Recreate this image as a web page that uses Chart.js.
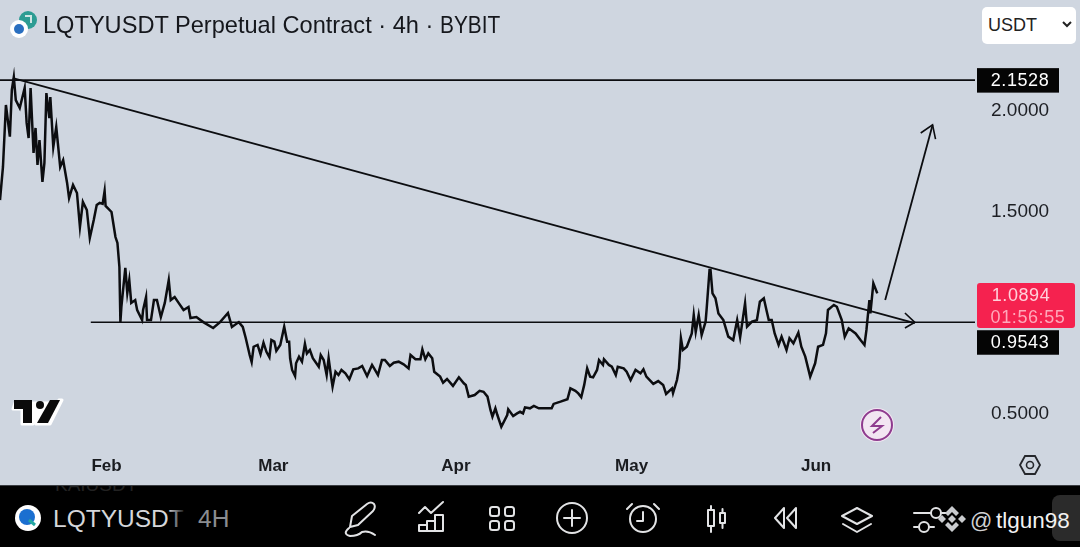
<!DOCTYPE html>
<html>
<head>
<meta charset="utf-8">
<script src="https://cdn.jsdelivr.net/npm/chart.js@4/dist/chart.umd.min.js"></script>
<style>
html,body{margin:0;padding:0;background:#cfd6e0;overflow:hidden}
#wrap{position:relative;width:1080px;height:547px;overflow:hidden;font-family:"Liberation Sans",Arial,sans-serif}
canvas{position:absolute;left:0;top:0}
svg{position:absolute;left:0;top:0}
#title{position:absolute;left:43px;top:11px;font-size:23.6px;color:#15171c;white-space:nowrap;line-height:28px}
#title span{display:inline-block;transform:scaleX(0.885);transform-origin:left center}
#unit{position:absolute;left:982px;top:7px;width:94px;height:37px;background:#fff;border-radius:5px;font-size:18px;line-height:37px;color:#222;text-indent:6px}
#foot{position:absolute;left:0;top:485px;width:1080px;height:62px;background:#000;border-top:1px solid #3a3d42;box-sizing:border-box}
</style>
</head>
<body>
<div id="wrap">
<canvas id="c" width="1080" height="485"></canvas>
<div id="title">LQTYUSDT Perpetual Contract · 4h · <span>BYBIT</span></div>
<div id="unit">USDT</div>
<svg width="1080" height="485" viewBox="0 0 1080 485">
  <circle cx="28" cy="20" r="9" fill="#2c9c93"/>
  <path d="M25 16 L31 16 L31 23" fill="none" stroke="#cfe6e4" stroke-width="2"/>
  <circle cx="19" cy="29" r="9" fill="#fff"/>
  <circle cx="19" cy="29" r="5" fill="#2a6fc0"/>
  <path d="M1063 22 L1067 26 L1071 22" fill="none" stroke="#222" stroke-width="2"/>
  <path d="M15 403 H58 L59 400 H62 L50 424 H36 L44 406 L33 424 H22 V409 H13 Z" fill="#fff" stroke="#fff" stroke-width="3" stroke-linejoin="round"/>
  <path d="M14 400 H32 V423 H23 V409 H14 Z" fill="#0b0b0b"/>
  <circle cx="40" cy="405" r="4" fill="#0b0b0b"/>
  <path d="M50 400 H60 L48 423 H37 Z" fill="#0b0b0b"/>
  <circle cx="877" cy="425" r="17" fill="#f2e6f2"/>
  <circle cx="877" cy="425" r="15" fill="none" stroke="#8e3b8e" stroke-width="2"/>
  <path d="M881 417 L872 426 H882 L873 433" fill="none" stroke="#8e3b8e" stroke-width="2"/>
  <path d="M1020 465 L1025 456 H1035 L1040 465 L1035 474 H1025 Z" fill="none" stroke="#25272c" stroke-width="1.8"/>
  <circle cx="1030" cy="465" r="3.5" fill="none" stroke="#25272c" stroke-width="1.6"/>
</svg>
<div id="foot">
<svg width="1080" height="62" viewBox="0 485 1080 62">
  <text x="55" y="490" font-size="19" fill="#222" font-family="Liberation Sans">KAIUSDT</text>
  <circle cx="28" cy="517" r="13" fill="#fff"/>
  <circle cx="27" cy="516" r="8" fill="#1b6fd0"/>
  <path d="M29 519 L35 524" stroke="#25a8a0" stroke-width="3"/>
  <defs><linearGradient id="fade" x1="0" x2="1" y1="0" y2="0"><stop offset="0.88" stop-color="#d5d7da"/><stop offset="1" stop-color="#222"/></linearGradient></defs>
  <text x="53" y="526" font-size="24.5" fill="url(#fade)" font-family="Liberation Sans">LQTYUSDT</text>
  <text x="198" y="526" font-size="24.5" fill="#8a8c90" font-family="Liberation Sans">4H</text>
  <g fill="none" stroke="#e2e3e5" stroke-width="2" stroke-linecap="round" stroke-linejoin="round">
    <path d="M350 526 L352 515 L367 503 Q371 500 374 503 Q376 506 373 510 L358 524 Z M349 527 Q342 533 350 535 Q358 535 362 531 Q368 529 375 534"/>
    <path d="M419 530 V524 H427 V530 Z M427 530 V520 H435 V530 M435 530 V514 H443 V530 H419"/>
    <path d="M419 512 L425 506 L431 512 L443 501"/>
    <rect x="490" y="506" width="9" height="9" rx="2.5"/><rect x="505" y="506" width="9" height="9" rx="2.5"/>
    <rect x="490" y="520" width="9" height="9" rx="2.5"/><rect x="505" y="520" width="9" height="9" rx="2.5"/>
    <circle cx="572" cy="517" r="15"/><path d="M572 509 V525 M564 517 H580"/>
    <circle cx="643" cy="518" r="13"/><path d="M643 511 V520 H637 M627 508 L632 503 M659 508 L654 503"/>
    <rect x="708" y="509" width="6" height="16"/><path d="M711 505 V509 M711 525 V531"/>
    <rect x="720" y="512" width="5" height="10"/><path d="M722.500 508 V512 M722.500 522 V527"/>
    <path d="M784 507 L775 517 L784 527 Z M796 507 L787 517 L796 527 Z"/>
    <path d="M842 515 L857 507 L872 515 L857 523 Z"/><path d="M843 523 L857 531 L871 523"/>
    <path d="M914 512 H930 M942 512 H946 M914 526 H918 M930 526 H934"/><circle cx="936" cy="512" r="5"/><circle cx="924" cy="526" r="5"/>
  </g>
  <rect x="1052" y="494" width="40" height="46" rx="8" fill="#2b2b2b"/>
  <g fill="#c9cbce">
    <path d="M952 505 L959 512 L956 515 L952 511 L948 515 L945 512 Z"/><path d="M952 531 L959 524 L956 521 L952 525 L948 521 L945 524 Z"/>
    <path d="M952 514 L956 518 L952 522 L948 518 Z"/>
    <path d="M942 514 L946 518 L942 522 L938 518 Z"/><path d="M962 514 L966 518 L962 522 L958 518 Z"/>
  </g>
  <text x="970" y="527" font-size="22" fill="#d0d1d3" font-family="Liberation Sans">@</text>
  <text x="996" y="527" font-size="22.500" fill="#f2f2f2" font-family="Liberation Sans">tlgun98</text>
</svg>
</div>
</div>
<script>
const candles = [0,3,6,10,12,14,16,20,25,27,29,31,34,36,38,40,43,45,47,50,51,54,57,61,64,68,70,74,78,81,84,88,91,95,98,101,104,106,107,113,117,119,121,122,123,127,129,131,133,137,139,144,145,148,149,153,156,159,163,167,171,173,177,181,186,191,193,199,206,216,223,231,235,242,246,249,253,255,257,261,264,267,270,273,275,278,280,284,288,291,293,294,296,299,300,303,306,309,311,314,317,323,325,328,331,333,336,337,340,343,346,350,354,358,363,367,372,377,380,383,387,390,395,399,404,409,414,416,421,426,428,431,434,438,440,446,449,453,459,465,470,472,475,481,486,490,494,497,499,502,504,508,514,515,520,524,527,530,532,537,541,546,559,561,568,575,578,583,586,589,592,595,598,601,605,607,611,612,617,620,624,626,632,635,639,644,649,652,655,662,667,672,675,681,682,686,688,690,692,696,701,703,705,708,711,715,716,719,720,722,725,728,733,738,743,747,750,755,757,762,767,770,774,777,779,782,785,789,792,797,800,804,809,812,816,821,826,829,834,837,839,845,848,853,856,860,867,872,876,878,881,882,885,889];
const prices = [1.559,1.723,2.030,1.873,2.104,2.168,2.054,2.015,2.114,1.941,1.866,2.114,1.792,1.916,1.733,1.856,1.649,1.743,2.089,1.965,2.069,1.822,1.921,1.723,1.757,1.644,1.569,1.634,1.594,1.426,1.550,1.510,1.371,1.460,1.535,1.545,1.540,1.604,1.530,1.500,1.376,1.347,1.228,0.955,1.030,1.223,1.099,1.163,1.050,1.064,1.015,0.965,1.015,1.079,0.965,0.965,1.064,1.064,0.980,1.050,1.163,1.064,1.079,1.050,1.015,1.030,0.975,0.980,0.955,0.926,0.955,1.000,0.931,0.955,0.931,0.876,0.792,0.757,0.833,0.842,0.796,0.853,0.808,0.781,0.866,0.858,0.813,0.842,0.932,0.858,0.858,0.776,0.718,0.688,0.751,0.784,0.759,0.847,0.800,0.817,0.776,0.734,0.792,0.767,0.693,0.776,0.668,0.635,0.709,0.693,0.718,0.701,0.672,0.721,0.726,0.738,0.688,0.743,0.718,0.693,0.767,0.767,0.738,0.754,0.759,0.746,0.726,0.792,0.771,0.771,0.820,0.771,0.800,0.776,0.709,0.685,0.655,0.673,0.639,0.682,0.652,0.644,0.586,0.594,0.615,0.610,0.586,0.520,0.487,0.528,0.495,0.437,0.495,0.523,0.490,0.503,0.511,0.503,0.533,0.528,0.540,0.528,0.528,0.550,0.561,0.573,0.627,0.615,0.602,0.583,0.644,0.726,0.685,0.682,0.718,0.767,0.743,0.771,0.743,0.734,0.693,0.734,0.726,0.709,0.668,0.718,0.701,0.721,0.685,0.649,0.663,0.644,0.599,0.627,0.603,0.668,0.726,0.875,0.817,0.833,0.899,0.990,0.907,0.990,0.891,0.957,1.015,1.213,1.213,1.097,1.073,0.998,0.965,0.883,0.866,0.965,0.880,1.048,0.932,0.957,0.965,1.056,1.073,1.007,0.965,0.965,0.899,0.842,0.883,0.817,0.875,0.850,0.903,0.833,0.784,0.685,0.751,0.833,0.842,0.899,1.015,1.040,1.031,0.965,0.883,0.924,0.899,0.866,0.842,0.916,1.064,0.998,1.147,1.097];
const monthLabels = ["Feb","Mar","Apr","May","Jun"];
const monthCandles = [108,277,462,640,827];
const yTicks = [0.5,1.5,2.0];
const resistance = 2.1528;
const support = 0.9543;
const lastPrice = 1.0894;
const countdown = "01:56:55";
const trendCandles = [13,927];
const trendPrices = [2.163,0.950];
const pointerCandles = [917,927,917];
const pointerPrices = [1.000,0.954,0.926];
const upCandles = [897,945];
const upPrices = [1.064,1.931];
const upHeadCandles = [933,945,948];
const upHeadPrices = [1.891,1.931,1.861];

const xy = (xs, ys) => xs.map((x, i) => ({x, y: ys[i]}));
const draw = (data, w) => ({data, borderColor:'#0c0d10', borderWidth:w, pointRadius:0, tension:0, fill:false});

const badges = {
  id:'badges',
  afterDraw(chart){
    const c = chart.ctx, y = chart.scales.y;
    c.save();
    c.textAlign='center'; c.textBaseline='middle'; c.font='18px "Liberation Sans"';
    c.letterSpacing='0.6px';
    const black = (v, shift) => {
      const p = y.getPixelForValue(v) + shift;
      c.fillStyle='#050505';
      c.fillRect(977,p-12,82,24.500);
      c.fillStyle='#fff';
      c.fillText(v.toFixed(4),1020,p+1);
    };
    const p = y.getPixelForValue(lastPrice);
    c.fillStyle='#f5224f';
    c.beginPath(); c.roundRect(977,p-12,98,45,3); c.fill();
    c.fillStyle='#ffd0da'; c.fillText(lastPrice.toFixed(4),1021,p+1);
    c.fillStyle='#ffa8ba'; c.fillText(countdown,1028,p+23);
    black(resistance, 0);
    black(support, 20);
    c.restore();
  }
};

new Chart(document.getElementById('c'), {
  type:'line',
  data:{datasets:[
    draw(xy(candles,prices),2.5),
    draw(xy([0,988],[resistance,resistance]),1.6),
    draw(xy([92,988],[support,support]),1.6),
    draw(xy(trendCandles,trendPrices),1.8),
    draw(xy(pointerCandles,pointerPrices),1.6),
    draw(xy(upCandles,upPrices),1.8),
    draw(xy(upHeadCandles,upHeadPrices),1.6)
  ]},
  options:{
    responsive:false, animation:false, events:[],
    layout:{padding:0,autoPadding:false},
    plugins:{legend:{display:false},tooltip:{enabled:false}},
    scales:{
      x:{type:'linear',min:0,max:988,
        grid:{display:false,drawTicks:false},border:{display:false},
        afterFit(s){s.height=35;s.paddingLeft=0;s.paddingRight=0;},
        afterBuildTicks(s){s.ticks=monthCandles.map(v=>({value:v}));},
        ticks:{autoSkip:false,maxRotation:0,padding:6,color:'#1a1c20',
          font:{family:'"Liberation Sans"',size:17,weight:'bold'},
          callback:(v)=>monthLabels[monthCandles.indexOf(v)]}
      },
      y:{type:'linear',position:'right',min:0.3218,max:2.5495,
        grid:{display:false,drawTicks:false},border:{display:false},
        afterFit(s){s.width=105;s.paddingTop=0;s.paddingBottom=0;},
        afterBuildTicks(s){s.ticks=yTicks.map(v=>({value:v}));},
        ticks:{padding:16,color:'#1d1f24',
          font:{family:'"Liberation Sans"',size:19},
          callback:(v)=>v.toFixed(4)}
      }
    }
  },
  plugins:[badges]
});
</script>
</body>
</html>
